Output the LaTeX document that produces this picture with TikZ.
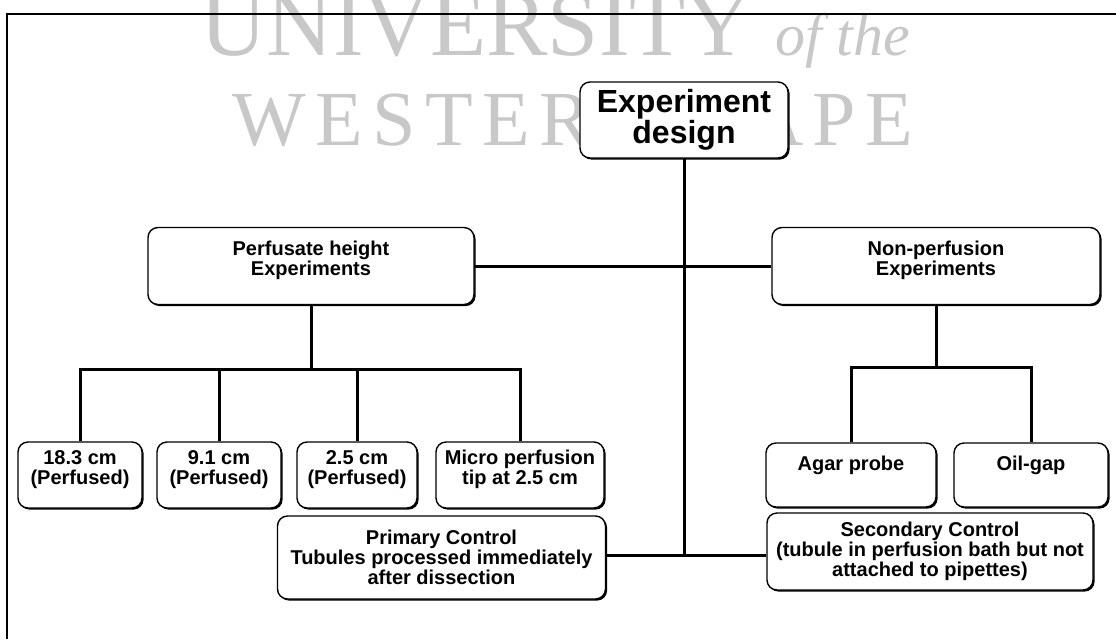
\documentclass[tikz,border=0pt]{standalone}
\usepackage{fontspec}
\setmainfont{Liberation Sans}
\newfontfamily\wmfont{Liberation Serif}
\newfontfamily\wmspaced[LetterSpace=12]{Liberation Serif}
\usepackage{tikz}
\usetikzlibrary{shapes.geometric, arrows, shadows}
\definecolor{wmgray}{RGB}{200,200,200}
\tikzstyle{roundbox} = [rectangle, rounded corners=5pt, draw=black, line width=0.7pt, fill=white, align=center, inner sep=2pt, font=\bfseries\fontsize{10}{10}\selectfont, drop shadow={shadow xshift=0.8pt, shadow yshift=-0.8pt, fill=black, opacity=1}]
\tikzstyle{topbox} = [roundbox, minimum width=104pt, minimum height=38pt, font=\bfseries\fontsize{16}{15.5}\selectfont]
\tikzstyle{groupbox} = [roundbox, minimum width=163pt, minimum height=38.5pt, text depth=8.2pt]
\tikzstyle{leafbox} = [roundbox, minimum width=62pt, minimum height=33pt, text depth=7.7pt]
\tikzstyle{methodbox} = [roundbox, minimum height=32pt, text depth=11.7pt]
\tikzstyle{controlbox} = [roundbox, minimum width=164pt]
\tikzstyle{link} = [line width=1.5pt]
\tikzstyle{watermark} = [text=wmgray, inner sep=0pt, anchor=base west]

\begin{document}
\begin{tikzpicture}[node distance=73pt]
		\useasboundingbox (0,0) rectangle (558pt,-319.5pt);
		% watermark behind the chart
		\node (wmtop) [watermark, font=\wmfont\fontsize{46}{46}\selectfont] at (100pt,-27.5pt) {UNIVERSITY {\itshape\fontsize{30}{30}\selectfont of the}};
		\node (wmbot) [watermark, font=\wmspaced\fontsize{39}{39}\selectfont] at (116pt,-72.5pt) {WESTERN CAPE};
		\draw [line width=0.7pt] (558pt,-7pt) -- (3.5pt,-7pt) -- (3.5pt,-319.5pt);
		
		\node (root) [topbox] at (342pt,-60pt) {Experiment\\design};
		\node (perf) [groupbox, below of=root, xshift=-186.5pt] {Perfusate height\\Experiments};
		\node (nonp) [groupbox, below of=root, xshift=126pt, minimum width=164pt] {Non-perfusion\\Experiments};
		
		\node (h18) [leafbox, below of=perf, yshift=-31.5pt, xshift=-115.5pt] {18.3 cm\\(Perfused)};
		\node (h9) [leafbox, right of=h18, xshift=-3.5pt] {9.1 cm\\(Perfused)};
		\node (h25) [leafbox, right of=h9, xshift=-4pt, minimum width=60pt] {2.5 cm\\(Perfused)};
		\node (micro) [leafbox, right of=h25, xshift=8.5pt, minimum width=84pt] {Micro perfusion\\tip at 2.5 cm};
		
		\node (agar) [methodbox, below of=nonp, yshift=-31.5pt, xshift=-42.5pt, minimum width=85pt] {Agar probe};
		\node (oil) [methodbox, right of=agar, xshift=17pt, minimum width=77pt] {Oil-gap};
		
		\node (prim) [controlbox, below of=root, yshift=-145.75pt, xshift=-121.25pt, minimum height=41.5pt] {Primary Control\\Tubules processed immediately\\after dissection};
		\node (sec) [controlbox, below of=agar, yshift=34.75pt, xshift=39.5pt, minimum width=163pt, minimum height=38.5pt] {Secondary Control\\(tubule in perfusion bath but not\\attached to pipettes)};
		
		\coordinate [below of=root, yshift=-144.5pt] (ctl);
		\coordinate [below of=perf, yshift=21.5pt] (pbus);
		\coordinate [below of=nonp, yshift=22.5pt] (nbus);
		
		\draw [link] (root) -- (ctl);
		\draw [link] (perf) -- (nonp);
		\draw [link] (perf) -- (pbus);
		\draw [link] (h18) |- (pbus) -| (micro);
		\draw [link] (h9) -- (h9 |- pbus);
		\draw [link] (h25) -- (h25 |- pbus);
		\draw [link] (nonp) -- (nbus);
		\draw [link] (agar) |- (nbus) -| (oil);
		\draw [link] (prim.east |- ctl) -- (sec.west |- ctl);
		\end{tikzpicture}
\end{document}
